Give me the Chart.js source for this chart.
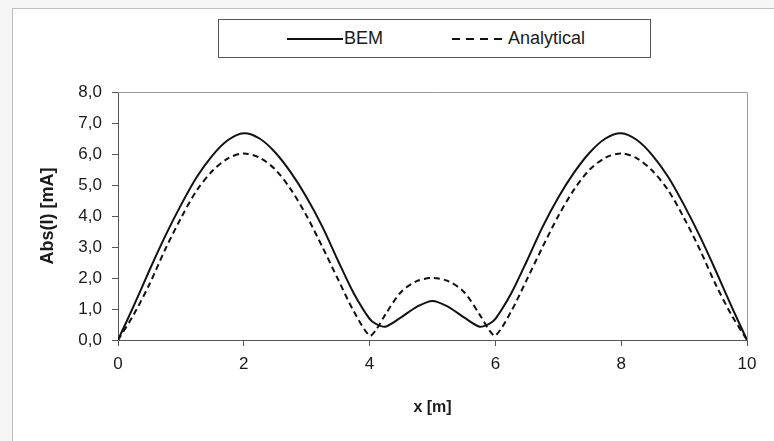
<!DOCTYPE html>
<html>
<head>
<meta charset="utf-8">
<script src="https://cdn.jsdelivr.net/npm/chart.js@4/dist/chart.umd.min.js"></script>
<style>
    body { margin: 0; background: #f5f5f5; width: 774px; height: 441px; overflow: hidden; position: relative; font-family: "Liberation Sans", Arial, sans-serif; }
    #frame { position: absolute; left: 12px; top: 8px; width: 800px; height: 500px; background: #fff; border-left: 1px solid #bdbdbd; border-top: 1px solid #bdbdbd; }
    #chartBox { position: absolute; left: 0; top: 0; width: 774px; height: 441px; }
    #legend { position: absolute; left: 218px; top: 19px; width: 431px; height: 37px; border: 1px solid #555; background: #fff; }
    .item { position: absolute; top: 8px; font-size: 18px; color: #1a1a1a; line-height: 21px; }
    .sample { position: absolute; top: 16px; }
</style>
</head>
<body>
<div id="frame"></div>
<div id="chartBox"><canvas id="chart" width="774" height="441"></canvas></div>
<div id="legend">
    <svg class="sample" style="left:68px" width="56" height="6"><line x1="0" y1="3" x2="56" y2="3" stroke="#111" stroke-width="2"/></svg>
    <div class="item" style="left:125px;">BEM</div>
    <svg class="sample" style="left:233px" width="52" height="6"><line x1="0" y1="3" x2="52" y2="3" stroke="#111" stroke-width="2" stroke-dasharray="8 6"/></svg>
    <div class="item" style="left:289px;">Analytical</div>
</div>
<script>
/* global Chart */

const xValues = [0, 0.25, 0.5, 0.75, 1, 1.25, 1.5, 1.75, 2, 2.25, 2.5, 2.75, 3, 3.25, 3.5, 3.75, 4, 4.1, 4.25, 4.5, 4.75, 5,
    5.25, 5.5, 5.75, 5.9, 6, 6.25, 6.5, 6.75, 7, 7.25, 7.5, 7.75, 8, 8.25, 8.5, 8.75, 9, 9.25, 9.5, 9.75, 10];

const bemValues = [0, 1.1, 2.25, 3.35, 4.35, 5.25, 5.95, 6.45, 6.67, 6.5, 6.05, 5.4, 4.6, 3.65, 2.55, 1.5, 0.68, 0.52, 0.43, 0.73, 1.07, 1.26,
    1.07, 0.73, 0.43, 0.52, 0.68, 1.5, 2.55, 3.65, 4.6, 5.4, 6.05, 6.5, 6.67, 6.45, 5.95, 5.25, 4.35, 3.35, 2.25, 1.1, 0];

const analyticalValues = [0, 0.82, 1.8, 2.92, 3.93, 4.82, 5.45, 5.86, 6.02, 5.88, 5.5, 4.85, 4.0, 3.0, 1.95, 0.92, 0.14, 0.32, 0.82, 1.55, 1.9, 2.0,
    1.9, 1.55, 0.82, 0.32, 0.14, 0.92, 1.95, 3.0, 4.0, 4.85, 5.5, 5.88, 6.02, 5.86, 5.45, 4.82, 3.93, 2.92, 1.8, 0.82, 0];

const xTitle = "x [m]";
const yTitle = "Abs(I) [mA]";

function toPoints(values)
{
    return xValues.map((x, i) => ({ x: x, y: values[i] }));
}

// grey frame on the top and right of the plot area
const plotFrame = {
    id: "plotFrame",
    beforeDatasetsDraw(chart)
    {
        const a = chart.chartArea;
        const ctx = chart.ctx;
        ctx.save();
        ctx.strokeStyle = "#9a9a9a";
        ctx.lineWidth = 1;
        ctx.beginPath();
        ctx.moveTo(a.left, a.top + 0.5);
        ctx.lineTo(a.right + 0.5, a.top + 0.5);
        ctx.lineTo(a.right + 0.5, a.bottom);
        ctx.stroke();
        ctx.restore();
    }
};

new Chart(document.getElementById("chart"), {
    type: "line",
    data: {
        datasets: [
            {
                label: "BEM",
                data: toPoints(bemValues),
                borderColor: "#111",
                borderWidth: 2,
                pointRadius: 0,
                tension: 0.3
            },
            {
                label: "Analytical",
                data: toPoints(analyticalValues),
                borderColor: "#111",
                borderWidth: 2,
                borderDash: [6, 4],
                pointRadius: 0,
                tension: 0.3
            }
        ]
    },
    options: {
        responsive: false,
        animation: false,
        layout: { padding: { left: 33, top: 92, right: 27, bottom: 0 } },
        plugins: {
            legend: { display: false },
            tooltip: { enabled: false }
        },
        scales: {
            x: {
                type: "linear",
                min: 0,
                max: 10,
                afterFit: (scale) => { scale.height = 101; },
                ticks: {
                    stepSize: 2,
                    color: "#1a1a1a",
                    padding: 8,
                    font: { family: "Liberation Sans", size: 17 }
                },
                grid: { drawOnChartArea: false, drawTicks: true, tickLength: 6, color: "#555" },
                border: { color: "#555", width: 1 },
                title: {
                    display: true,
                    text: xTitle,
                    color: "#1a1a1a",
                    padding: { top: 4, bottom: 24 },
                    font: { family: "Liberation Sans", size: 16, weight: "bold" }
                }
            },
            y: {
                min: 0,
                max: 8,
                afterFit: (scale) => { scale.width = 85; },
                ticks: {
                    stepSize: 1,
                    color: "#1a1a1a",
                    padding: 10,
                    font: { family: "Liberation Sans", size: 17 },
                    callback: (v) => v.toFixed(1).replace(".", ",")
                },
                grid: { drawOnChartArea: false, drawTicks: true, tickLength: 6, color: "#555" },
                border: { color: "#555", width: 1 },
                title: {
                    display: true,
                    text: yTitle,
                    color: "#1a1a1a",
                    padding: { top: 4, bottom: 4 },
                    font: { family: "Liberation Sans", size: 18, weight: "bold" }
                }
            }
        }
    },
    plugins: [plotFrame]
});
</script>
</body>
</html>
